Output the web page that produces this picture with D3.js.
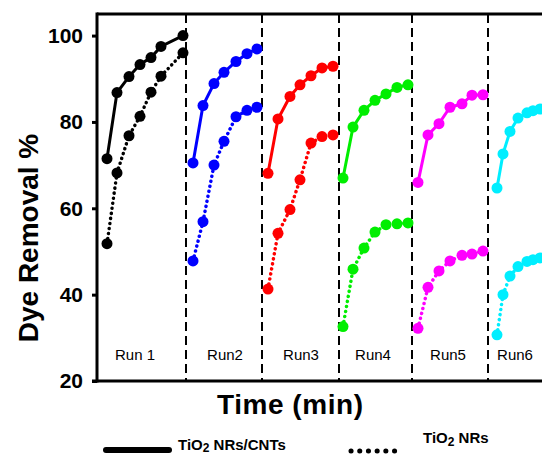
<!DOCTYPE html>
<html>
<head>
<meta charset="utf-8">
<script src="https://cdn.jsdelivr.net/npm/d3@7"></script>
<style>
  body { margin: 0; background: #fff; }
  svg { font-family: Arial, "Liberation Sans", sans-serif; }
</style>
</head>
<body>
<div id="chart"></div>
<script>
// time positions (arbitrary units along the x axis) for each run
var runNames = ["Run 1", "Run2", "Run3", "Run4", "Run5", "Run6"];
var runColors = ["#000000", "#0000ff", "#ff0000", "#00ee00", "#ff00ff", "#00eeff"];
var runLabelPos = [38, 128, 204, 276, 351, 418];
var runBreaks = [89, 165, 242, 315, 391];

var times = [
  [10, 20, 32, 43, 54, 64, 86],
  [96, 106, 117, 127, 139, 150, 160],
  [171, 181, 193, 203, 214, 225, 236],
  [246, 256, 267, 278, 289, 300, 311],
  [321, 331, 342, 353, 365, 375, 386],
  [400, 406, 413, 421, 430, 436, 443]
];
// TiO2 NRs/CNTs (solid)
var composite = [
  [71.5, 86.8, 90.5, 93.3, 94.9, 97.5, 100],
  [70.5, 83.8, 88.9, 91.5, 94.0, 95.8, 96.9],
  [68.1, 80.7, 85.9, 88.6, 90.7, 92.5, 92.9],
  [67.0, 78.8, 82.7, 85.0, 86.5, 88.0, 88.6],
  [66.0, 77.0, 79.6, 83.4, 84.2, 86.2, 86.3],
  [64.7, 72.6, 77.8, 80.9, 82.1, 82.6, 83.0]
];
// TiO2 NRs (dotted)
var bare = [
  [51.8, 68.2, 76.8, 81.3, 86.9, 90.6, 96.0],
  [47.8, 56.9, 70.0, 75.5, 81.2, 82.7, 83.4],
  [41.3, 54.2, 59.7, 66.6, 75.1, 76.6, 77.0],
  [32.6, 45.9, 50.8, 54.5, 56.2, 56.4, 56.6],
  [32.2, 41.7, 45.5, 47.8, 49.1, 49.4, 50.1],
  [30.7, 40.0, 44.3, 46.5, 47.7, 48.1, 48.5]
];
var yTicks = [20, 40, 60, 80, 100];

var width = 542, height = 454;
var margin = {top: 14, right: 0, bottom: 73, left: 97};

var svg = d3.select("#chart").append("svg")
    .attr("width", width)
    .attr("height", height);

var x = d3.scaleLinear().domain([0, 445]).range([margin.left, width]);
var y = d3.scaleLinear().domain([20, 105]).range([height - margin.bottom, margin.top]);

// dashed run separators
svg.selectAll(".sep").data(runBreaks).enter()
    .append("line")
    .attr("x1", function(d) { return x(d); })
    .attr("x2", function(d) { return x(d); })
    .attr("y1", y(105))
    .attr("y2", y(20))
    .style("stroke", "#000")
    .style("stroke-width", 2)
    .style("stroke-dasharray", "9,5");

var line = d3.line()
    .x(function(d) { return x(d[0]); })
    .y(function(d) { return y(d[1]); });

function pts(i, vals) {
    return times[i].map(function(t, j) { return [t, vals[i][j]]; });
}

runNames.forEach(function(name, i) {
    var c = runColors[i];
    svg.append("path")
        .attr("d", line(pts(i, composite)))
        .style("fill", "none")
        .style("stroke", c)
        .style("stroke-width", 3);
    svg.append("path")
        .attr("d", line(pts(i, bare)))
        .style("fill", "none")
        .style("stroke", c)
        .style("stroke-width", 3.5)
        .style("stroke-linecap", "round")
        .style("stroke-dasharray", "0.1,5");
    var all = pts(i, composite).concat(pts(i, bare));
    svg.selectAll(null).data(all).enter()
        .append("circle")
        .attr("cx", function(d) { return x(d[0]); })
        .attr("cy", function(d) { return y(d[1]); })
        .attr("r", 5.5)
        .style("fill", c);
    svg.append("text")
        .attr("x", x(runLabelPos[i]))
        .attr("y", 360)
        .attr("text-anchor", "middle")
        .style("font-size", "15px")
        .text(name);
});

// frame lines
svg.append("line")
    .attr("x1", margin.left).attr("x2", width)
    .attr("y1", margin.top).attr("y2", margin.top)
    .style("stroke", "#000").style("stroke-width", 3);

var yAxis = svg.append("g")
    .attr("transform", "translate(" + margin.left + ",0)")
    .call(d3.axisLeft(y).tickValues(yTicks).tickSize(5).tickPadding(9));
yAxis.select(".domain").remove();
yAxis.selectAll(".tick line").style("stroke-width", 3);
yAxis.selectAll(".tick text")
    .style("font-size", "21px")
    .style("font-weight", "bold")
    .style("font-family", "Arial, 'Liberation Sans', sans-serif")
    .attr("fill", "#000");

svg.append("line")
    .attr("x1", margin.left).attr("x2", margin.left)
    .attr("y1", margin.top - 1.5).attr("y2", y(20) + 1.5)
    .style("stroke", "#000").style("stroke-width", 3);
svg.append("line")
    .attr("x1", margin.left - 5).attr("x2", width)
    .attr("y1", y(20)).attr("y2", y(20))
    .style("stroke", "#000").style("stroke-width", 3);

// axis titles
svg.append("text")
    .attr("transform", "translate(38," + 238 + ") rotate(-90)")
    .attr("text-anchor", "middle")
    .style("font-size", "28px")
    .style("font-weight", "bold")
    .text("Dye Removal %");

svg.append("text")
    .attr("x", 290)
    .attr("y", 414)
    .attr("text-anchor", "middle")
    .style("font-size", "28px")
    .style("font-weight", "bold")
    .attr("textLength", 146)
    .text("Time (min)");

// legend
svg.append("line")
    .attr("x1", 106).attr("x2", 169)
    .attr("y1", 450).attr("y2", 450)
    .style("stroke", "#000").style("stroke-width", 6)
    .style("stroke-linecap", "round");
var t1 = svg.append("text").attr("x", 178).attr("y", 450)
    .style("font-size", "15px").style("font-weight", "bold");
t1.append("tspan").text("TiO");
t1.append("tspan").attr("dy", 2).style("font-size", "12px").text("2");
t1.append("tspan").attr("dy", -2).text(" NRs/CNTs");

svg.append("line")
    .attr("x1", 351).attr("x2", 403)
    .attr("y1", 451).attr("y2", 451)
    .style("stroke", "#000").style("stroke-width", 5)
    .style("stroke-linecap", "round")
    .style("stroke-dasharray", "0.1,8.6");
var t2 = svg.append("text").attr("x", 423).attr("y", 443)
    .style("font-size", "15px").style("font-weight", "bold");
t2.append("tspan").text("TiO");
t2.append("tspan").attr("dy", 3).style("font-size", "12px").text("2");
t2.append("tspan").attr("dy", -3).text(" NRs");
</script>
</body>
</html>
